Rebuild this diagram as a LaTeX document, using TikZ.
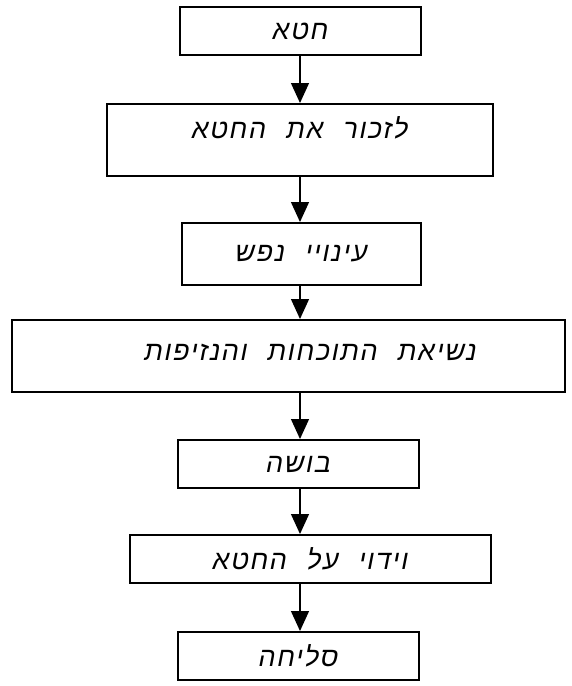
\documentclass[tikz,border=0pt]{standalone}
\usepackage{fontspec}
\newfontfamily\heb[Script=Hebrew,LetterSpace=6,WordSpace=2.2]{Liberation Sans}
\TeXXeTstate=1
\usetikzlibrary{arrows.meta}
\begin{document}
\begin{tikzpicture}[x=1pt,y=-1pt,
  box/.style={draw=black, line width=2pt, fill=white, inner sep=0pt, font=\heb\itshape\fontsize{27}{30}\selectfont},
  conn/.style={line width=1.3pt, -{Triangle[length=20pt,width=18pt]}}]
\useasboundingbox (0,0) rectangle (572,686);
\node[box, minimum width=241pt, minimum height=48pt] (n1) at (300.5,31) {\beginR חטא\endR};
\node[box, minimum width=386pt, minimum height=72pt, text height=34pt, text depth=38pt] (n2) at (300,140) {\beginR לזכור את החטא\endR};
\node[box, minimum width=239pt, minimum height=62pt] (n3) at (301.5,254) {\beginR עינויי נפש\endR};
\node[box, minimum width=553pt, minimum height=72pt, text height=40pt, text depth=32pt] (n4) at (288.5,356) {\hspace*{44pt}\beginR נשיאת התוכחות והנזיפות\endR};
\node[box, minimum width=241pt, minimum height=48pt] (n5) at (298.5,464) {\beginR בושה\endR};
\node[box, minimum width=361pt, minimum height=48pt] (n6) at (310.5,559) {\beginR וידוי על החטא\endR};
\node[box, minimum width=241pt, minimum height=48pt] (n7) at (298.5,656) {\beginR סליחה\endR};
\coordinate (c) at (300,0);
\draw[conn] (n1.south -| c) -- (n2.north -| c);
\draw[conn] (n2.south -| c) -- (n3.north -| c);
\draw[conn] (n3.south -| c) -- (n4.north -| c);
\draw[conn] (n4.south -| c) -- (n5.north -| c);
\draw[conn] (n5.south -| c) -- (n6.north -| c);
\draw[conn] (n6.south -| c) -- (n7.north -| c);
\end{tikzpicture}
\end{document}
